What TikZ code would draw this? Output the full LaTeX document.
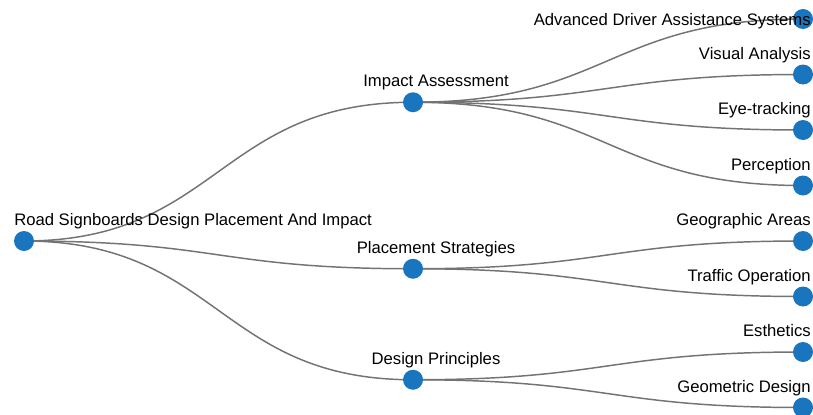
\documentclass[tikz,border=0pt]{standalone}
\usepackage{fontspec}
\usetikzlibrary{calc}
\setmainfont{Liberation Sans}
\definecolor{dotblue}{RGB}{25,118,190}
\definecolor{linkgray}{RGB}{115,115,115}
\begin{document}
\begin{tikzpicture}[x=0.75pt,y=-0.75pt,
  dot/.style={circle,fill=dotblue,inner sep=0pt,minimum size=15pt},
  link/.style={draw=linkgray,line width=1.1pt},
  lbl/.style={font=\fontsize{12.5pt}{14pt}\selectfont,inner sep=0pt},
]
\useasboundingbox (0,0) rectangle (813,414);
% coordinates
\coordinate (r) at (24,241);
\coordinate (ia) at (413,102.25);
\coordinate (ps) at (413,268.75);
\coordinate (dp) at (413,379.75);
\coordinate (l1) at (803,19);
\coordinate (l2) at (803,74.5);
\coordinate (l3) at (803,130);
\coordinate (l4) at (803,185.5);
\coordinate (l5) at (803,241);
\coordinate (l6) at (803,296.5);
\coordinate (l7) at (803,352);
\coordinate (l8) at (803,407.5);
% links
\foreach \a/\b in {r/ia,r/ps,r/dp,ia/l1,ia/l2,ia/l3,ia/l4,ps/l5,ps/l6,dp/l7,dp/l8}{
  \path[link] let \p1=(\a), \p2=(\b) in
    (\a) .. controls ({(\x1+\x2)/2},\y1) and ({(\x1+\x2)/2},\y2) .. (\b);
}
% dots
\foreach \c in {r,ia,ps,dp,l1,l2,l3,l4,l5,l6,l7,l8}{
  \node[dot] (d\c) at (\c) {};
}
% labels
\node[lbl,anchor=base west] (tr) at (14,225) {Road Signboards Design Placement And Impact};
\node[lbl,anchor=base] (tia) at (436,86.5) {Impact Assessment};
\node[lbl,anchor=base] (tps) at (436,253) {Placement Strategies};
\node[lbl,anchor=base] (tdp) at (436,364) {Design Principles};
\node[lbl,anchor=base east] (t1) at (811,25) {Advanced Driver Assistance Systems};
\node[lbl,anchor=base east] (t2) at (811,59) {Visual Analysis};
\node[lbl,anchor=base east] (t3) at (811,114.5) {Eye-tracking};
\node[lbl,anchor=base east] (t4) at (811,170) {Perception};
\node[lbl,anchor=base east] (t5) at (811,225.5) {Geographic Areas};
\node[lbl,anchor=base east] (t6) at (811,281) {Traffic Operation};
\node[lbl,anchor=base east] (t7) at (811,336.5) {Esthetics};
\node[lbl,anchor=base east] (t8) at (811,392) {Geometric Design};
\end{tikzpicture}
\end{document}
